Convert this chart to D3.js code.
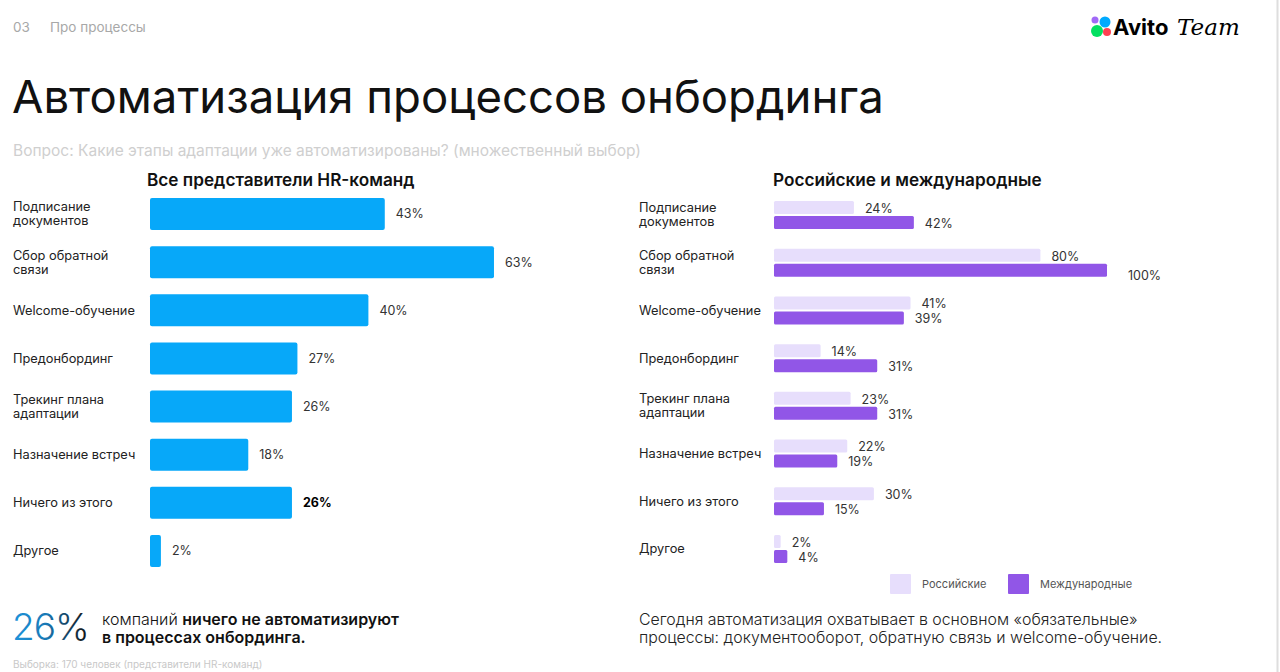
<!DOCTYPE html>
<html>
<head>
<meta charset="utf-8">
<script src="https://cdn.jsdelivr.net/npm/d3@7"></script>
<style>
  html, body { margin: 0; padding: 0; background: #fff; }
  svg { display: block; font-family: "Inter", "Noto Sans", sans-serif; }
</style>
</head>
<body>
<svg id="chart" width="1280" height="672"></svg>
<script>
// categories (line breaks as in the slide)
var categories = [
  ["Подписание", "документов"],
  ["Сбор обратной", "связи"],
  ["Welcome-обучение"],
  ["Предонбординг"],
  ["Трекинг плана", "адаптации"],
  ["Назначение встреч"],
  ["Ничего из этого"],
  ["Другое"]
];
var allHr = [43, 63, 40, 27, 26, 18, 26, 2];
var russian = [24, 80, 41, 14, 23, 22, 30, 2];
var international = [42, 100, 39, 31, 31, 19, 15, 4];
var seriesNames = ["Российские", "Международные"];
var highlightIndex = 6; // bold label on the left chart

var blue = "#07a8f9";
var lightPurple = "#e7defc";
var darkPurple = "#9156e7";

var svg = d3.select("#chart");
var keys = categories.map(function (d) { return d.join(" "); });

// header
svg.append("text").attr("x", 13).attr("y", 32).attr("fill", "#a8a8a8")
  .style("font-size", "13.5px").text("03");
svg.append("text").attr("x", 50).attr("y", 32).attr("fill", "#a8a8a8")
  .style("font-size", "13.5px").text("Про процессы");

svg.append("text").attr("x", 12).attr("y", 113).attr("fill", "#111")
  .style("font-size", "45.5px").style("font-weight", 400)
  .text("Автоматизация процессов онбординга");

svg.append("text").attr("x", 13).attr("y", 156).attr("fill", "#cfcfcf")
  .style("font-size", "15.5px")
  .text("Вопрос: Какие этапы адаптации уже автоматизированы? (множественный выбор)");

// logo
var logo = svg.append("g");
logo.append("circle").attr("cx", 1095).attr("cy", 20).attr("r", 3.5).attr("fill", "#a169f7");
logo.append("circle").attr("cx", 1105).attr("cy", 22).attr("r", 5.5).attr("fill", "#0af");
logo.append("circle").attr("cx", 1097).attr("cy", 31).attr("r", 6).attr("fill", "#04e061");
logo.append("circle").attr("cx", 1107).attr("cy", 32).attr("r", 4).attr("fill", "#ff4053");
logo.append("text").attr("x", 1113).attr("y", 35).attr("fill", "#000")
  .style("font-size", "22px").style("font-weight", 700).text("Avito");
logo.append("text").attr("x", 1177).attr("y", 35).attr("fill", "#000")
  .style("font-size", "23px").style("font-style", "italic").style("font-weight", 300)
  .style("font-family", "'DejaVu Serif', serif").text("Team");

// right border
svg.append("line").attr("x1", 1277.5).attr("x2", 1277.5).attr("y1", 0).attr("y2", 672)
  .attr("stroke", "#dedede").attr("stroke-width", 2);

function drawCategoryLabels(x, yScale) {
  var g = svg.append("g");
  categories.forEach(function (lines, i) {
    var cy = yScale(keys[i]);
    var t = g.append("text").attr("x", x).attr("fill", "#222").style("font-size", "12.8px");
    var lh = 14;
    lines.forEach(function (line, j) {
      t.append("tspan").attr("x", x)
        .attr("y", cy - (lines.length - 1) * lh / 2 + j * lh)
        .attr("dy", "0.35em").text(line);
    });
  });
}

// ---------- left chart ----------
svg.append("text").attr("x", 147).attr("y", 186).attr("fill", "#111")
  .style("font-size", "17.2px").style("font-weight", 600).text("Все представители HR-команд");

var yLeft = d3.scalePoint().domain(keys).range([214, 551]);
var xLeft = d3.scaleLinear().domain([0, 100]).range([150, 696]);
var barH = 32;

drawCategoryLabels(13, yLeft);

var left = svg.append("g");
left.selectAll("rect").data(allHr).enter().append("rect")
  .attr("x", xLeft(0))
  .attr("y", function (d, i) { return yLeft(keys[i]) - barH / 2; })
  .attr("width", function (d) { return xLeft(d) - xLeft(0); })
  .attr("height", barH).attr("rx", 2).attr("fill", blue);

left.selectAll("text").data(allHr).enter().append("text")
  .attr("x", function (d) { return xLeft(d) + 11; })
  .attr("y", function (d, i) { return yLeft(keys[i]); })
  .attr("dy", "0.35em").attr("fill", function (d, i) { return i === highlightIndex ? "#000" : "#333"; })
  .style("font-size", "12.5px")
  .style("font-weight", function (d, i) { return i === highlightIndex ? 700 : 400; })
  .text(function (d) { return d + "%"; });

// ---------- right chart ----------
svg.append("text").attr("x", 773).attr("y", 186).attr("fill", "#111")
  .style("font-size", "17.2px").style("font-weight", 600).text("Российские и международные");

var yRight = d3.scalePoint().domain(keys).range([215, 549]);
var xRight = d3.scaleLinear().domain([0, 100]).range([774, 1107]);
var subH = 13;

drawCategoryLabels(639, yRight);

var pairs = [
  { values: russian, color: lightPurple, offset: -subH - 1 },
  { values: international, color: darkPurple, offset: 1 }
];

pairs.forEach(function (s) {
  var g = svg.append("g");
  g.selectAll("rect").data(s.values).enter().append("rect")
    .attr("x", xRight(0))
    .attr("y", function (d, i) { return yRight(keys[i]) + s.offset; })
    .attr("width", function (d) { return xRight(d) - xRight(0); })
    .attr("height", subH).attr("rx", 1.5).attr("fill", s.color);
  g.selectAll("text").data(s.values).enter().append("text")
    .attr("x", function (d) { return xRight(d) + (d === 100 ? 21 : 11); })
    .attr("y", function (d, i) { return yRight(keys[i]) + s.offset + subH / 2 + (d === 100 ? 5 : 1); })
    .attr("dy", "0.35em").attr("fill", "#333").style("font-size", "12.5px")
    .text(function (d) { return d + "%"; });
});

// legend
var legend = svg.append("g");
[[890, lightPurple], [1008, darkPurple]].forEach(function (p, i) {
  legend.append("rect").attr("x", p[0]).attr("y", 574).attr("width", 21).attr("height", 20)
    .attr("rx", 1).attr("fill", p[1]);
  legend.append("text").attr("x", p[0] + 32).attr("y", 584).attr("dy", "0.35em")
    .attr("fill", "#555").style("font-size", "11px").text(seriesNames[i]);
});

// ---------- footer ----------
var defs = svg.append("defs");
var grad = defs.append("linearGradient").attr("id", "numGrad")
  .attr("x1", "0%").attr("x2", "100%").attr("y1", "0%").attr("y2", "0%");
grad.append("stop").attr("offset", "0%").attr("stop-color", "#1d94dc");
grad.append("stop").attr("offset", "45%").attr("stop-color", "#1978b4");
grad.append("stop").attr("offset", "100%").attr("stop-color", "#111");

svg.append("text").attr("x", 12).attr("y", 640).attr("fill", "url(#numGrad)")
  .style("font-size", "37px").style("font-weight", 300).style("letter-spacing", "-1px")
  .text(allHr[highlightIndex] + "%");

var note = svg.append("text").attr("x", 102).attr("fill", "#111").style("font-size", "16px");
note.append("tspan").attr("x", 102).attr("y", 625).style("font-weight", 300).text("компаний ");
note.append("tspan").style("font-weight", 600).text("ничего не автоматизируют");
note.append("tspan").attr("x", 102).attr("y", 643).style("font-weight", 600).text("в процессах онбординга.");

var right = svg.append("text").attr("fill", "#222").style("font-size", "15.9px").style("font-weight", 300);
right.append("tspan").attr("x", 639).attr("y", 625)
  .text("Сегодня автоматизация охватывает в основном «обязательные»");
right.append("tspan").attr("x", 639).attr("y", 643)
  .text("процессы: документооборот, обратную связь и welcome-обучение.");

svg.append("text").attr("x", 13).attr("y", 668).attr("fill", "#c8c8c8")
  .style("font-size", "10px").text("Выборка: 170 человек (представители HR-команд)");
</script>
</body>
</html>
